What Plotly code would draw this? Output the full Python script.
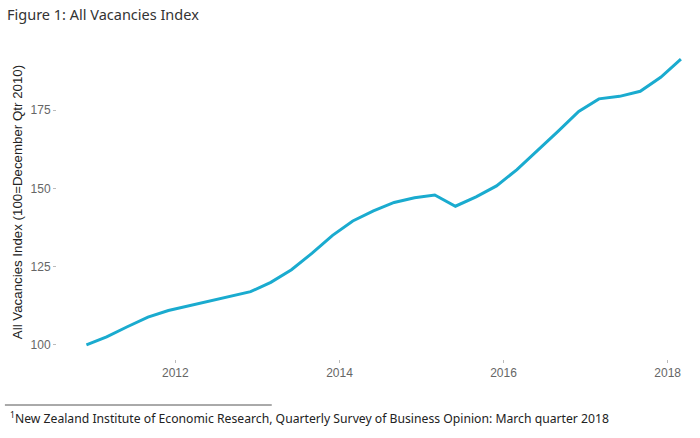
import plotly.graph_objects as go

# Quarterly dates (Dec 2010 .. Mar 2018)
quarters = [
    "2010-12-01", "2011-03-01", "2011-06-01", "2011-09-01",
    "2011-12-01", "2012-03-01", "2012-06-01", "2012-09-01",
    "2012-12-01", "2013-03-01", "2013-06-01", "2013-09-01",
    "2013-12-01", "2014-03-01", "2014-06-01", "2014-09-01",
    "2014-12-01", "2015-03-01", "2015-06-01", "2015-09-01",
    "2015-12-01", "2016-03-01", "2016-06-01", "2016-09-01",
    "2016-12-01", "2017-03-01", "2017-06-01", "2017-09-01",
    "2017-12-01", "2018-03-01",
]
vacancies_index = [
    100.0, 102.6, 105.8, 108.9,
    111.0, 112.5, 114.2, 115.5,
    117.0, 120.0, 124.0, 129.3,
    135.0, 139.6, 142.8, 145.5,
    147.0, 147.9, 144.3, 147.3,
    150.8, 156.0, 162.0, 168.3,
    174.6, 178.6, 179.4, 181.0,
    185.5, 191.3,
]
y_ticks = [100, 125, 150, 175]
x_ticks = ["2012-01-01", "2014-01-01", "2016-01-01", "2018-01-01"]
x_tick_labels = ["2012", "2014", "2016", "2018"]

title_text = "Figure 1: All Vacancies Index"
y_title = "All Vacancies Index (100=December Qtr 2010)"
footnote = ("<sup>1</sup>New Zealand Institute of Economic Research, "
            "Quarterly Survey of Business Opinion: March quarter 2018")

fig = go.Figure()
fig.add_trace(go.Scatter(
    x=quarters, y=vacancies_index, mode="lines",
    line=dict(color="#1aabcf", width=3),
    showlegend=False, hoverinfo="x+y",
))

tick_font = dict(family="Liberation Sans, Arial, sans-serif", size=12, color="#666666")

fig.update_layout(
    width=700, height=438,
    margin=dict(l=57, r=0, t=45, b=79),
    paper_bgcolor="white", plot_bgcolor="white",
    xaxis=dict(
        type="date",
        range=["2010-07-23", "2018-05-25"],
        tickvals=x_ticks, ticktext=x_tick_labels,
        showgrid=False, zeroline=False, showline=False,
        ticks="outside", ticklen=3, tickwidth=1, tickcolor="#bbbbbb",
        tickfont=tick_font,
    ),
    yaxis=dict(
        range=[95.5, 195.8],
        tickvals=y_ticks,
        showgrid=False, zeroline=False, showline=False,
        ticks="outside", ticklen=3, tickwidth=1, tickcolor="#bbbbbb",
        tickfont=tick_font,
        title=dict(text=y_title, standoff=4,
                   font=dict(family="Liberation Sans, Arial, sans-serif", size=13.3, color="#222222")),
    ),
    shapes=[dict(
        type="line", xref="paper", yref="paper",
        x0=-0.081, x1=0.334, y0=-0.1465, y1=-0.1465,
        line=dict(color="#555555", width=1),
    )],
    annotations=[
        dict(text=title_text, xref="paper", yref="paper",
             x=-0.081, y=1.099, xanchor="left", yanchor="middle",
             showarrow=False,
             font=dict(family="Noto Sans, sans-serif", size=14.5, color="#333333")),
        dict(text=footnote, xref="paper", yref="paper",
             x=-0.0765, y=-0.188, xanchor="left", yanchor="middle",
             showarrow=False,
             font=dict(family="Noto Sans, sans-serif", size=12.2, color="#222222")),
    ],
)

fig.write_html("out.html", config={"displayModeBar": False},
               post_script="document.body.style.margin='0';")
